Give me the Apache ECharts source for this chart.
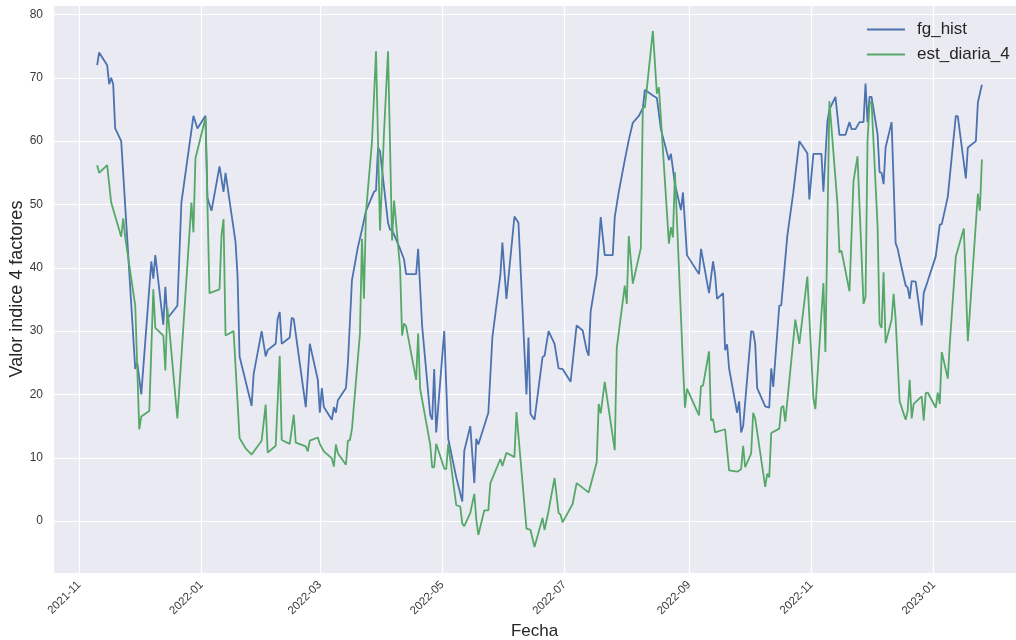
<!DOCTYPE html>
<html>
<head>
<meta charset="utf-8">
<title>fg_hist vs est_diaria_4</title>
<script src="https://cdn.jsdelivr.net/npm/echarts@6/dist/echarts.min.js"></script>
<style>
  html, body { margin: 0; padding: 0; background: #fff; }
  #chart { width: 1016px; height: 640px; }
</style>
</head>
<body>
<div id="chart"></div>
<script>
// fg_hist
var fgDates = [
  '2021-11-10','2021-11-11','2021-11-15','2021-11-16','2021-11-17','2021-11-18','2021-11-19','2021-11-22','2021-11-29','2021-11-30',
  '2021-12-02','2021-12-07','2021-12-08','2021-12-09','2021-12-13','2021-12-14','2021-12-15','2021-12-20','2021-12-22','2021-12-28',
  '2021-12-30','2022-01-03','2022-01-04','2022-01-06','2022-01-10','2022-01-12','2022-01-13','2022-01-18','2022-01-19','2022-01-20',
  '2022-01-26','2022-01-27','2022-01-31','2022-02-02','2022-02-03','2022-02-07','2022-02-08','2022-02-09','2022-02-10','2022-02-14',
  '2022-02-15','2022-02-16','2022-02-22','2022-02-24','2022-02-28','2022-03-01','2022-03-02','2022-03-03','2022-03-07','2022-03-08',
  '2022-03-09','2022-03-10','2022-03-14','2022-03-15','2022-03-17','2022-03-20','2022-03-22','2022-03-24','2022-03-28','2022-03-29',
  '2022-03-30','2022-03-31','2022-04-04','2022-04-05','2022-04-06','2022-04-10','2022-04-12','2022-04-13','2022-04-18','2022-04-19',
  '2022-04-21','2022-04-25','2022-04-26','2022-04-27','2022-04-28','2022-05-02','2022-05-04','2022-05-08','2022-05-11','2022-05-12',
  '2022-05-15','2022-05-17','2022-05-18','2022-05-19','2022-05-24','2022-05-26','2022-05-30','2022-05-31','2022-06-02','2022-06-06',
  '2022-06-08','2022-06-12','2022-06-13','2022-06-14','2022-06-16','2022-06-20','2022-06-21','2022-06-23','2022-06-26','2022-06-28',
  '2022-06-30','2022-07-04','2022-07-07','2022-07-10','2022-07-12','2022-07-13','2022-07-14','2022-07-17','2022-07-19','2022-07-21',
  '2022-07-25','2022-07-26','2022-07-28','2022-07-31','2022-08-02','2022-08-04','2022-08-07','2022-08-09','2022-08-10','2022-08-14',
  '2022-08-16','2022-08-18','2022-08-22','2022-08-23','2022-08-25','2022-08-28','2022-08-29','2022-08-31','2022-09-06','2022-09-07',
  '2022-09-11','2022-09-13','2022-09-14','2022-09-15','2022-09-18','2022-09-19','2022-09-20','2022-09-21','2022-09-25','2022-09-26',
  '2022-09-27','2022-09-28','2022-10-02','2022-10-03','2022-10-04','2022-10-05','2022-10-09','2022-10-11','2022-10-12','2022-10-13',
  '2022-10-16','2022-10-17','2022-10-20','2022-10-23','2022-10-26','2022-10-30','2022-10-31','2022-11-02','2022-11-06','2022-11-07',
  '2022-11-09','2022-11-10','2022-11-13','2022-11-15','2022-11-18','2022-11-20','2022-11-21','2022-11-23','2022-11-25','2022-11-27',
  '2022-11-28','2022-11-29','2022-11-30','2022-12-01','2022-12-04','2022-12-05','2022-12-06','2022-12-07','2022-12-08','2022-12-11',
  '2022-12-13','2022-12-14','2022-12-16','2022-12-18','2022-12-19','2022-12-20','2022-12-21','2022-12-23','2022-12-26','2022-12-27',
  '2022-12-29','2023-01-02','2023-01-04','2023-01-05','2023-01-08','2023-01-12','2023-01-13','2023-01-17','2023-01-18','2023-01-22',
  '2023-01-23','2023-01-25'
]
var fgValues = [
  72, 74, 72, 69, 70, 69, 62, 60, 24, 25,
  20, 41, 38.3, 42, 31, 37, 32, 34, 50.3, 64,
  62, 64, 51, 49, 56, 52, 55, 44, 38.6, 26,
  18.2, 23.2, 30, 26, 27, 28, 32, 33, 28, 29,
  32.1, 31.9, 18, 28, 22.3, 17.1, 21, 18, 16, 18,
  17.1, 19.1, 21, 25, 38, 43.3, 46, 49, 52, 52.2,
  59, 58.4, 47.1, 46, 46, 43, 41.3, 39, 39, 43,
  30.8, 16.8, 16, 24, 14, 30, 13, 6.9, 3.1, 11.1,
  15, 6, 13, 12.1, 17.1, 29, 38.9, 44, 35.1, 48.1,
  47.1, 20, 29, 16.9, 16, 25.9, 26.1, 30, 28, 24.1,
  24, 22, 30.9, 30.1, 27, 26.1, 33.1, 38.9, 48, 42,
  42, 48, 52, 57, 60.2, 62.9, 64, 65.2, 68.1, 67.2,
  66.8, 61.9, 57, 58, 53.2, 49.1, 51.9, 42, 39, 43,
  36, 41, 38.9, 35.1, 36, 27, 27.9, 24.1, 17.1, 18.9,
  14, 15, 30, 29.9, 28, 21, 18.1, 17.9, 24.1, 21.2,
  34, 34.1, 45, 51.9, 60, 58.1, 50.8, 58, 58, 52,
  63.1, 65, 67, 61, 61, 63, 61.9, 61.9, 63, 63,
  69.1, 63, 67, 67, 61.1, 55.1, 55, 53.2, 59, 63,
  43.9, 43, 40, 37.2, 36.9, 35.1, 37.9, 37.8, 30.9, 36,
  37.9, 41.8, 46.8, 46.9, 51.2, 64, 63.9, 54.1, 59, 60,
  66.1, 68.9
]

// est_diaria_4
var estDates = [
  '2021-11-10','2021-11-11','2021-11-15','2021-11-17','2021-11-22','2021-11-23','2021-11-24','2021-11-29','2021-12-01','2021-12-02',
  '2021-12-06','2021-12-08','2021-12-09','2021-12-13','2021-12-14','2021-12-15','2021-12-20','2021-12-27','2021-12-28','2021-12-29',
  '2022-01-03','2022-01-05','2022-01-10','2022-01-11','2022-01-12','2022-01-13','2022-01-17','2022-01-20','2022-01-23','2022-01-26',
  '2022-01-31','2022-02-02','2022-02-03','2022-02-07','2022-02-09','2022-02-10','2022-02-14','2022-02-16','2022-02-17','2022-02-22',
  '2022-02-23','2022-02-24','2022-02-28','2022-03-01','2022-03-03','2022-03-07','2022-03-08','2022-03-09','2022-03-10','2022-03-14',
  '2022-03-15','2022-03-16','2022-03-17','2022-03-21','2022-03-22','2022-03-23','2022-03-24','2022-03-27','2022-03-29','2022-03-31',
  '2022-04-02','2022-04-04','2022-04-06','2022-04-07','2022-04-10','2022-04-11','2022-04-12','2022-04-13','2022-04-18','2022-04-19',
  '2022-04-20','2022-04-25','2022-04-26','2022-04-27','2022-04-28','2022-05-02','2022-05-03','2022-05-04','2022-05-08','2022-05-10',
  '2022-05-11','2022-05-12','2022-05-15','2022-05-17','2022-05-18','2022-05-19','2022-05-22','2022-05-24','2022-05-25','2022-05-30',
  '2022-05-31','2022-06-02','2022-06-06','2022-06-07','2022-06-12','2022-06-14','2022-06-16','2022-06-20','2022-06-21','2022-06-23',
  '2022-06-26','2022-06-28','2022-06-29','2022-06-30','2022-07-05','2022-07-07','2022-07-11','2022-07-13','2022-07-17','2022-07-18',
  '2022-07-19','2022-07-21','2022-07-26','2022-07-27','2022-07-31','2022-08-01','2022-08-02','2022-08-04','2022-08-08','2022-08-09',
  '2022-08-10','2022-08-14','2022-08-16','2022-08-17','2022-08-19','2022-08-22','2022-08-23','2022-08-24','2022-08-25','2022-08-29',
  '2022-08-30','2022-08-31','2022-09-06','2022-09-07','2022-09-08','2022-09-11','2022-09-12','2022-09-13','2022-09-14','2022-09-19',
  '2022-09-21','2022-09-25','2022-09-27','2022-09-28','2022-09-29','2022-10-02','2022-10-03','2022-10-04','2022-10-09','2022-10-10',
  '2022-10-11','2022-10-12','2022-10-16','2022-10-17','2022-10-18','2022-10-19','2022-10-24','2022-10-26','2022-10-30','2022-11-02',
  '2022-11-03','2022-11-07','2022-11-08','2022-11-10','2022-11-14','2022-11-15','2022-11-16','2022-11-20','2022-11-22','2022-11-24',
  '2022-11-27','2022-11-28','2022-11-29','2022-11-30','2022-12-01','2022-12-04','2022-12-05','2022-12-06','2022-12-07','2022-12-08',
  '2022-12-11','2022-12-12','2022-12-13','2022-12-15','2022-12-18','2022-12-19','2022-12-20','2022-12-21','2022-12-22','2022-12-26',
  '2022-12-27','2022-12-28','2022-12-29','2023-01-02','2023-01-03','2023-01-04','2023-01-05','2023-01-08','2023-01-09','2023-01-12',
  '2023-01-16','2023-01-18','2023-01-23','2023-01-24','2023-01-25'
]
var estValues = [
  56.2, 55, 56.2, 50.3, 44.9, 47.8, 44.8, 34, 14.5, 16.5,
  17.4, 36.6, 30.5, 29.3, 23.8, 33.7, 16.2, 50.3, 45.6, 57.3,
  63.7, 36, 36.6, 45.2, 47.7, 29.3, 30, 13.1, 11.5, 10.5,
  12.7, 18.4, 10.8, 11.9, 26.1, 12.8, 12.2, 16.8, 12.4, 11.8,
  11, 12.7, 13.2, 12.2, 11, 9.9, 8.6, 12.1, 10.7, 8.9,
  12.7, 12.8, 14.5, 29.6, 44.6, 35.1, 48.8, 59.9, 74.2, 45.9,
  61.4, 74.2, 44.3, 50.6, 40, 29.3, 31.2, 30.8, 22.3, 29.6,
  20.9, 12.1, 8.5, 8.5, 12.2, 8.3, 8.2, 12.2, 2.5, 2.3,
  -0.4, -0.8, 1.3, 4.3, 0.2, -2.2, 1.7, 1.7, 6, 9.8,
  8.7, 10.8, 10.1, 17.2, -1.2, -1.4, -4.1, 0.5, -1.4, 1.6,
  6.8, 1.3, 1, -0.2, 2.7, 6, 5, 4.5, 9.3, 18.5,
  17, 22, 11.2, 27.3, 37.2, 34.3, 45, 37.5, 43.1, 65.4,
  65.3, 77.4, 67.5, 68.5, 58.7, 43.8, 46.4, 44.8, 55.1, 24.7,
  17.9, 20.9, 16.7, 21.3, 21.4, 26.8, 15.9, 16.1, 14, 14.5,
  8, 7.8, 8.2, 11.9, 8.5, 10.7, 17.1, 16.2, 5.4, 7.5,
  6.9, 13.9, 14.6, 17.9, 18.2, 15.7, 31.8, 28, 38.6, 19.4,
  17.7, 37.6, 26.7, 66.3, 50.1, 42.4, 42.7, 36.3, 53.7, 57.6,
  34.3, 35.4, 60, 65.9, 66.3, 46.6, 31.1, 30.5, 39.3, 28.1,
  31.8, 35.9, 31.9, 18.9, 16, 17.4, 22.3, 16.2, 18.5, 19.7,
  15.9, 20.2, 20.3, 17.9, 20.3, 18.5, 26.7, 22.5, 28, 41.8,
  46.2, 28.4, 51.7, 49, 57.1
]

var seriesNames = ['fg_hist', 'est_diaria_4']
var colors = ['#4C72B0', '#55A868']
var xMin = '2021-10-19'
var xMax = '2023-02-11'
var yMin = -8.2
var yMax = 81.5

var fontFamily = '"Liberation Sans", Arial, sans-serif'
var labelColor = '#3a3a3a'

var myChart = echarts.init(document.getElementById('chart'), null, { renderer: 'canvas' })

function pairs(dates, values) {
  return dates.map(function (d, i) { return [d, values[i]] })
}

var option = {
  backgroundColor: '#ffffff',
  animation: false,
  textStyle: { fontFamily: fontFamily },
  grid: {
    left: 53,
    right: 0,
    top: 5,
    bottom: 67,
    containLabel: false,
    outerBoundsMode: 'none',
    show: true,
    backgroundColor: '#EAEAF2',
    borderWidth: 0
  },
  legend: {
    orient: 'vertical',
    left: 862,
    top: 16,
    itemWidth: 38,
    itemHeight: 2,
    itemGap: 8,
    icon: 'rect',
    textStyle: { fontSize: 17, color: '#262626', fontFamily: fontFamily, padding: [0, 0, 0, 7] },
    data: seriesNames
  },
  xAxis: {
    type: 'time',
    min: xMin,
    max: xMax,
    splitNumber: 7,
    name: 'Fecha',
    nameLocation: 'middle',
    nameGap: 50,
    nameMoveOverlap: false,
    nameTextStyle: { fontSize: 17, color: '#262626' },
    axisLine: { show: false },
    axisTick: { show: false },
    splitLine: { show: true, lineStyle: { color: '#ffffff', width: 1.2 } },
    axisLabel: {
      rotate: 45,
      margin: 10,
      fontSize: 11.5,
      color: labelColor,
      showMinLabel: false,
      showMaxLabel: false,
      formatter: function (value) {
        return echarts.time.format(value, '{yyyy}-{MM}', false)
      }
    }
  },
  yAxis: {
    type: 'value',
    min: yMin,
    max: yMax,
    splitNumber: 9,
    name: 'Valor indice 4 factores',
    nameLocation: 'middle',
    nameGap: 27,
    nameMoveOverlap: false,
    nameTextStyle: { fontSize: 18, color: '#262626' },
    axisLine: { show: false },
    axisTick: { show: false },
    splitLine: { show: true, lineStyle: { color: '#ffffff', width: 1.2 } },
    axisLabel: {
      margin: 10,
      fontSize: 12,
      color: labelColor,
      showMinLabel: false,
      showMaxLabel: false,
      formatter: function (value) {
        return value % 10 === 0 ? String(value) : ''
      }
    }
  },
  series: [
    {
      name: seriesNames[0],
      type: 'line',
      showSymbol: false,
      symbol: 'none',
      lineStyle: { width: 1.8, color: colors[0] },
      itemStyle: { color: colors[0] },
      data: pairs(fgDates, fgValues)
    },
    {
      name: seriesNames[1],
      type: 'line',
      showSymbol: false,
      symbol: 'none',
      lineStyle: { width: 1.8, color: colors[1] },
      itemStyle: { color: colors[1] },
      data: pairs(estDates, estValues)
    }
  ]
}

myChart.setOption(option)
window.onresize = myChart.resize
</script>
</body>
</html>
